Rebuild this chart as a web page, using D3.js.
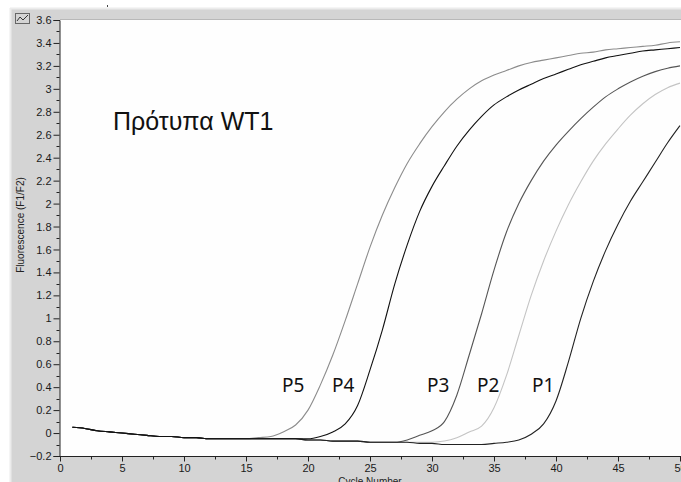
<!DOCTYPE html>
<html><head><meta charset="utf-8">
<script src="https://cdn.jsdelivr.net/npm/d3@7"></script>
<style>
html,body{margin:0;padding:0;background:#fff;}
svg{display:block;}
</style></head>
<body><svg id="c" width="681" height="482"></svg>
<script>
const cycles = [1,2,3,4,5,6,7,8,9,10,11,12,13,14,15,16,17,18,19,20,21,22,23,24,25,26,27,28,29,30,31,32,33,34,35,36,37,38,39,40,41,42,43,44,45,46,47,48,49,50];
const P5 = [.05,.04,.02,.01,0,-.01,-.02,-.03,-.03,-.04,-.04,-.05,-.05,-.05,-.05,-.04,-.03,.01,.07,.20,.42,.68,.98,1.30,1.62,1.90,2.14,2.35,2.52,2.67,2.80,2.91,3.00,3.07,3.12,3.16,3.20,3.23,3.25,3.27,3.29,3.31,3.32,3.34,3.35,3.36,3.37,3.38,3.40,3.41];
const P4 = [.05,.04,.02,.01,0,-.01,-.02,-.03,-.03,-.04,-.04,-.05,-.05,-.05,-.05,-.05,-.05,-.05,-.05,-.05,-.03,.01,.08,.24,.55,.90,1.30,1.64,1.93,2.15,2.33,2.50,2.64,2.76,2.86,2.93,2.99,3.04,3.09,3.13,3.17,3.21,3.24,3.27,3.29,3.31,3.33,3.34,3.35,3.36];
const P3 = [.05,.04,.02,.01,0,-.01,-.02,-.03,-.03,-.04,-.04,-.05,-.05,-.05,-.05,-.05,-.05,-.05,-.05,-.06,-.06,-.07,-.07,-.07,-.08,-.08,-.08,-.06,-.02,.02,.10,.33,.68,1.04,1.42,1.75,2.00,2.20,2.37,2.51,2.63,2.74,2.84,2.93,3.00,3.06,3.11,3.15,3.18,3.20];
const P2 = [.05,.04,.02,.01,0,-.01,-.02,-.03,-.03,-.04,-.04,-.05,-.05,-.05,-.05,-.05,-.05,-.05,-.05,-.06,-.06,-.07,-.07,-.07,-.08,-.08,-.08,-.08,-.08,-.08,-.07,-.04,.01,.06,.22,.50,.85,1.20,1.50,1.76,1.99,2.19,2.37,2.52,2.65,2.77,2.87,2.95,3.01,3.05];
const P1 = [.05,.04,.02,.01,0,-.01,-.02,-.03,-.03,-.04,-.04,-.05,-.05,-.05,-.05,-.05,-.05,-.05,-.05,-.06,-.06,-.07,-.07,-.07,-.08,-.08,-.08,-.08,-.09,-.09,-.10,-.10,-.10,-.10,-.09,-.08,-.06,-.01,.08,.28,.62,1.00,1.32,1.59,1.82,2.02,2.19,2.36,2.53,2.68];
const seriesNames = ["P2","P5","P3","P1","P4"];
const seriesColors = {P5:"#8c8c8c",P4:"#111111",P3:"#555555",P2:"#c4c4c4",P1:"#222222"};
const seriesData = {P5,P4,P3,P2,P1};
const labelNames = ["P5","P4","P3","P2","P1"];
const yTicks = [-0.2,0,0.2,0.4,0.6,0.8,1,1.2,1.4,1.6,1.8,2,2.2,2.4,2.6,2.8,3,3.2,3.4,3.6];
const xTicks = [0,5,10,15,20,25,30,35,40,45,50];
const title = "Πρότυπα WT1";
const yTitle = "Fluorescence (F1/F2)";
const xTitle = "Cycle Number";

const svg = d3.select("#c");
const W = 681, H = 482;
const L = 60, R = 680, T = 20, B = 456;
const x = d3.scaleLinear().domain([0,50]).range([L,R]);
const y = d3.scaleLinear().domain([-0.2,3.6]).range([B,T]);
const FONT = "'Liberation Sans', Arial, sans-serif";

// frame
svg.append("rect").attr("x",10).attr("y",8).attr("width",W-10).attr("height",H-8).attr("fill","#d4d4d4");
svg.append("line").attr("x1",10.5).attr("x2",10.5).attr("y1",8).attr("y2",H).attr("stroke","#ececec").attr("stroke-width",2);
svg.append("line").attr("x1",10).attr("x2",W).attr("y1",8.5).attr("y2",8.5).attr("stroke","#ececec").attr("stroke-width",2);
svg.append("line").attr("x1",L).attr("x2",W).attr("y1",19.5).attr("y2",19.5).attr("stroke","#b8b8b8");
svg.append("rect").attr("x",L).attr("y",T).attr("width",W-L).attr("height",B-T).attr("fill","#fefefe");
svg.append("line").attr("x1",107.5).attr("x2",107.5).attr("y1",5).attr("y2",7).attr("stroke","#444");

// icon
const ic = svg.append("g").attr("transform","translate(15,13)");
ic.append("rect").attr("x",0.5).attr("y",0.5).attr("width",14).attr("height",10).attr("fill","none").attr("stroke","#666");
ic.append("path").attr("d","M2,8 L5,4 L8,7 L13,2").attr("fill","none").attr("stroke","#333");

// axes
const yAxis = d3.axisLeft(y).tickValues(yTicks).tickSize(6).tickPadding(2).tickFormat(d3.format("~g"));
const gy = svg.append("g").attr("transform",`translate(${L-0.5},0)`).call(yAxis);
const yMinor = [-0.1,0.1,0.3,0.5,0.7,0.9,1.1,1.3,1.5,1.7,1.9,2.1,2.3,2.5,2.7,2.9,3.1,3.3,3.5];
gy.selectAll(".minor").data(yMinor).join("line").attr("class","minor")
  .attr("x1",-3).attr("x2",0).attr("y1",d=>Math.round(y(d))+0.5).attr("y2",d=>Math.round(y(d))+0.5).attr("stroke","#222");
const xAxis = d3.axisBottom(x).tickValues(xTicks).tickSize(5).tickPadding(3);
const gx = svg.append("g").attr("transform",`translate(0,${B+0.5})`).call(xAxis);
const xMinor = [2.5,7.5,12.5,17.5,22.5,27.5,32.5,37.5,42.5,47.5];
gx.selectAll(".minor").data(xMinor).join("line").attr("class","minor")
  .attr("y1",0).attr("y2",3).attr("x1",d=>Math.round(x(d))+0.5).attr("x2",d=>Math.round(x(d))+0.5).attr("stroke","#222");
[gx,gy].forEach(g=>{
  g.select(".domain").attr("stroke","#222");
  g.selectAll(".tick line").attr("stroke","#222");
  g.selectAll("text").attr("font-family",FONT).attr("font-size",11).attr("fill","#1a1a1a");
});
gx.select(".domain").attr("d",`M${L},0H${W}`);

svg.append("text").attr("transform","translate(24,225) rotate(-90)").attr("text-anchor","middle")
  .attr("font-family",FONT).attr("font-size",10).attr("fill","#222").text(yTitle);
svg.append("text").attr("x",370).attr("y",485).attr("text-anchor","middle")
  .attr("font-family",FONT).attr("font-size",10).attr("fill","#222").text(xTitle);

// curves
svg.append("clipPath").attr("id","clip").append("rect").attr("x",L).attr("y",T).attr("width",W-L).attr("height",B-T);
const line = d3.line().x((d,i)=>x(cycles[i])).y(d=>y(d)).curve(d3.curveMonotoneX);
svg.append("g").attr("clip-path","url(#clip)").selectAll("path").data(seriesNames).join("path")
  .attr("d",n=>line(seriesData[n])).attr("fill","none").attr("stroke",n=>seriesColors[n]).attr("stroke-width",1.1);

// labels
svg.append("text").attr("x",113).attr("y",130).attr("font-family",FONT)
  .attr("font-size",25).attr("fill","#111").text(title);
const labelX = {P5:282,P4:332,P3:427,P2:477,P1:532};
svg.selectAll(".pl").data(labelNames).join("text").attr("class","pl")
  .attr("x",n=>labelX[n]).attr("y",392).attr("font-family","'Noto Sans', sans-serif").attr("font-size",19).attr("fill","#111").text(n=>n);
</script></body></html>
